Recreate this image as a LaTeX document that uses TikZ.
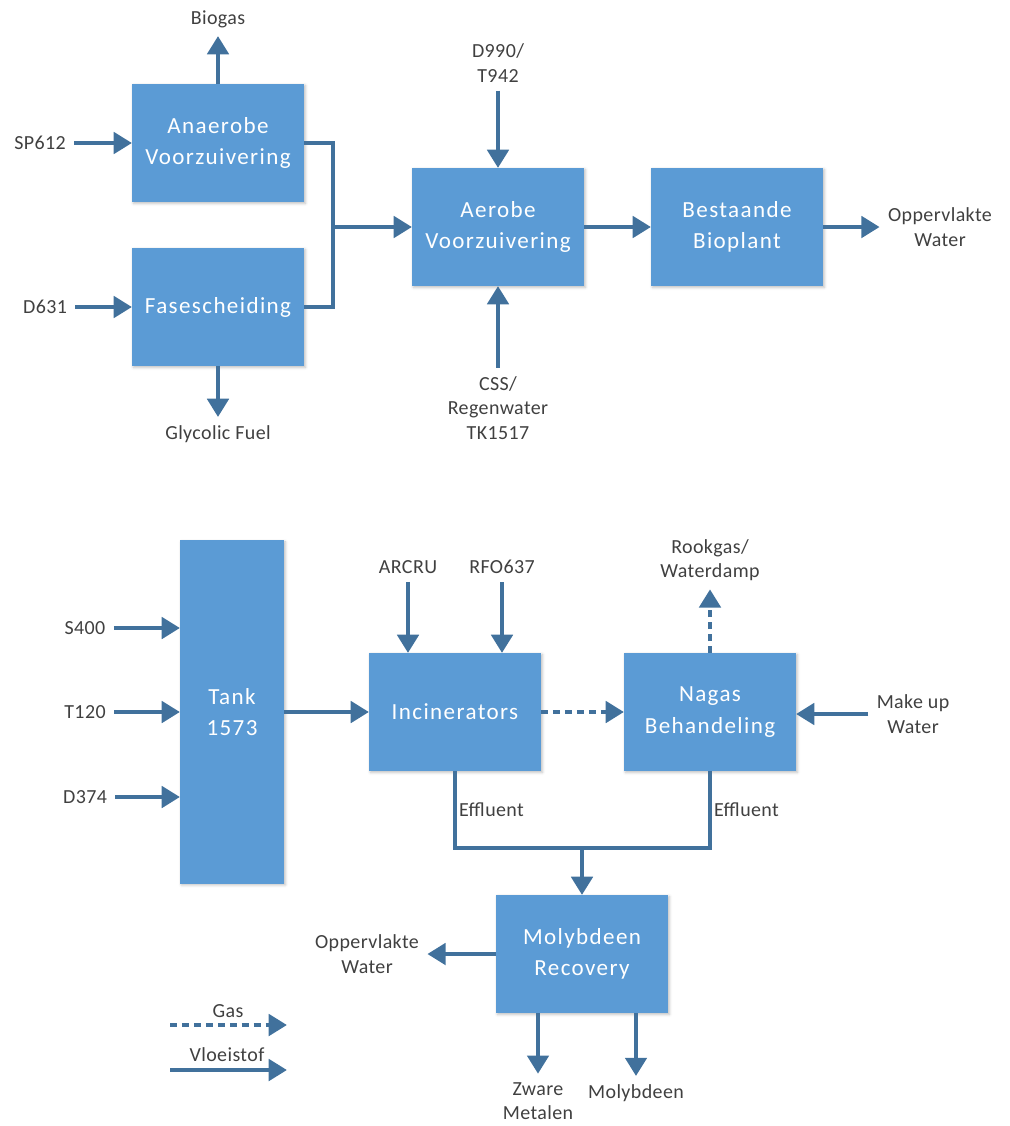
\documentclass[tikz,border=0pt]{standalone}
\usepackage{fontspec}
\setmainfont{Carlito}
\newfontfamily\boxfont[LetterSpace=6]{Carlito}
\newfontfamily\lblfont[LetterSpace=2]{Carlito}
\usetikzlibrary{arrows.meta,shadows.blur}

\definecolor{boxblue}{HTML}{5B9BD5}
\definecolor{pipeblue}{HTML}{41719C}
\definecolor{lblgray}{HTML}{404040}

\tikzset{
  unit/.style={fill=boxblue, text=white, align=center, inner sep=2pt, outer sep=0pt,
    minimum width=4.3cm, minimum height=2.95cm,
    font=\boxfont\fontsize{16.4pt}{22.5pt}\selectfont,
    blur shadow={shadow xshift=1pt, shadow yshift=-1pt, shadow opacity=25, shadow blur steps=4}},
  lbl/.style={text=lblgray, align=center, inner sep=1pt, outer sep=5pt,
    font=\lblfont\fontsize{14.2pt}{17.5pt}\selectfont},
  pipe/.style={draw=pipeblue, line width=3.4pt},
  flow/.style={pipe, -{Triangle[width=15pt,length=13pt]}},
  gasflow/.style={flow, dash pattern=on 5pt off 3.5pt}
}

\begin{document}
\begin{tikzpicture}[x=0.025cm, y=-0.025cm]
\useasboundingbox (0,0) rectangle (1009,1126);

% upper part: voorzuivering
\node[unit] (anaerobe) at (218,143) {Anaerobe\\Voorzuivering};
\node[unit] (fase) at (218,307) {Fasescheiding};
\node[unit] (aerobe) at (498,227) {Aerobe\\Voorzuivering};
\node[unit] (bioplant) at (737,227) {Bestaande\\Bioplant};

\node[lbl] (biogas) at (218,19) {Biogas};
\node[lbl] (sp612) at (40,143) {SP612};
\node[lbl] (d631) at (45,307) {D631};
\node[lbl] (glycolic) at (218,434) {Glycolic Fuel};
\node[lbl] (d990) at (498,63) {D990/\\T942};
\node[lbl] (css) at (498,408) {CSS/\\Regenwater\\TK1517};
\node[lbl] (opp1) at (940,227) {Oppervlakte\\Water};

\draw[flow] (anaerobe) -- (biogas);
\draw[flow] (sp612) -- (anaerobe);
\draw[flow] (d631) -- (fase);
\draw[flow] (fase) -- (glycolic);

    % both streams together into the aerobe step
\coordinate (merge) at (333,227);
\draw[pipe] (anaerobe.east) -| (merge) |- (fase.east);
\draw[flow] (merge) -- (aerobe);

\draw[flow] (d990) -- (aerobe);
\draw[flow] (css) -- (aerobe);
\draw[flow] (aerobe) -- (bioplant);
\draw[flow] (bioplant) -- (opp1);

% lower part: tank and incinerators
\node[unit, minimum width=2.6cm, minimum height=8.575cm] (tank) at (232,712) {Tank\\1573};
\node[unit] (incin) at (455,712) {Incinerators};
\node[unit] (nagas) at (710,712) {Nagas\\Behandeling};
\node[unit] (molyb) at (582,954) {Molybdeen\\Recovery};

\foreach \name/\y in {S400/628,T120/712,D374/797}
{
  \node[lbl] (\name) at (85,\y) {\name};
  \draw[flow] (\name) -- (\name -| tank.west);
};

\node[lbl] (arcru) at (408,567) {ARCRU};
\node[lbl] (rfo637) at (502,567) {RFO637};
\node[lbl] (rookgas) at (710,560) {Rookgas/\\Waterdamp};
\node[lbl] (makeup) at (913,714) {Make up\\Water};

\draw[flow] (tank) -- (incin);
\draw[flow] (arcru) -- (arcru |- incin.north);
\draw[flow] (rfo637) -- (rfo637 |- incin.north);
\draw[gasflow] (incin) -- (nagas);
\draw[gasflow] (nagas) -- (rookgas);
\draw[flow] (makeup) -- (makeup -| nagas.east);

    % effluent of both to molybdeen recovery
\coordinate (join) at (582,848);
\draw[pipe] (incin.south) |- node[lbl, right, pos=.25, outer sep=2pt] {Effluent} (join)
  -| node[lbl, right, pos=.75, outer sep=2pt] {Effluent} (nagas.south);
\draw[flow] (join) -- (molyb);

\node[lbl] (opp2) at (367,954) {Oppervlakte\\Water};
\node[lbl] (zware) at (538,1101) {Zware\\Metalen};
\node[lbl] (molybdeen) at (636,1093) {Molybdeen};

\draw[flow] (molyb) -- (opp2);
\draw[flow] (zware |- molyb.south) -- (zware);
\draw[flow] (molybdeen |- molyb.south) -- (molybdeen);

% legend
\node[lbl, outer sep=0pt] (gas) at (228,1011) {Gas};
\node[lbl, outer sep=0pt] (vloeistof) at (227,1055) {Vloeistof};
\coordinate (gasA) at (170,1025);
\coordinate (gasB) at (287,1025);
\coordinate (vlA) at (170,1070);
\coordinate (vlB) at (287,1070);
\draw[gasflow] (gasA) -- (gasB);
\draw[flow] (vlA) -- (vlB);
\end{tikzpicture}
\end{document}
